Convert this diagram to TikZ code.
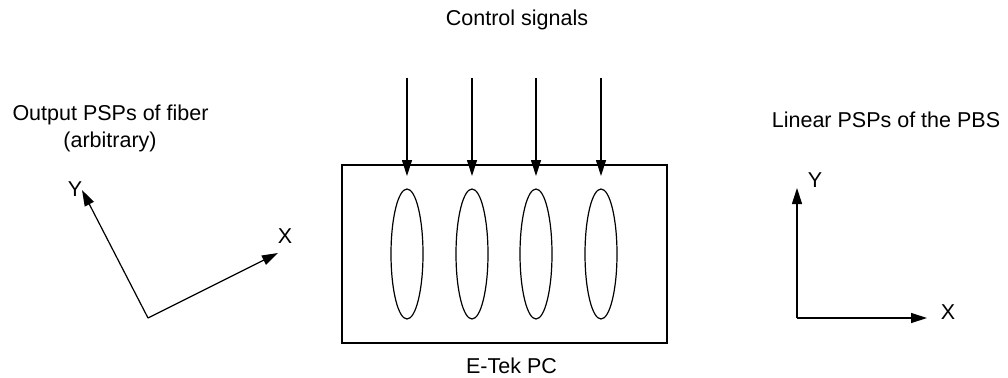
\documentclass[tikz,border=0pt]{standalone}
\usepackage{fontspec}
\setmainfont{Liberation Sans}
\usetikzlibrary{arrows.meta,shapes.geometric}
\begin{document}
\begin{tikzpicture}[x=1pt,y=-1pt,
  lbl/.style={inner sep=0pt,anchor=base,font=\fontsize{21.5}{25}\selectfont},
  axlbl/.style={inner sep=0pt,font=\fontsize{21.5}{25}\selectfont},
  ln/.style={line width=1.2pt},
  arr/.style={ln,-{Triangle[length=16pt,width=10pt]}},
  cell/.style={draw,ln,ellipse,inner sep=0pt,minimum width=32pt,minimum height=130pt}]
\useasboundingbox (0,0) rectangle (1008,377);
% titles
\node[lbl] (ctrl) at (517,26) {Control signals};
\node[lbl] (out1) at (110.5,121) {Output PSPs of fiber};
\node[lbl] (out2) at (110,147) {(arbitrary)};
\node[lbl] (lin) at (886,128) {Linear PSPs of the PBS};
\node[lbl] (etek) at (511.5,373) {E-Tek PC};
% PC box
\node[draw,ln,inner sep=0pt,minimum width=325pt,minimum height=178pt] (box) at (504.5,254) {};
% cells and control arrows
\foreach \i/\x in {1/407,2/472,3/536,4/601}{
  \node[cell] (c\i) at (\x,254) {};
  \coordinate (s\i) at (\x,78);
  \coordinate (t\i) at (\x,176);
  \draw[arr] (s\i) -- (t\i);
}
% left axes
\coordinate (lo) at (148,318);
\coordinate (ly) at (82,190);
\coordinate (lx) at (278,253);
\draw[arr] (lo) -- (ly);
\draw[arr] (lo) -- (lx);
\node[axlbl] (lyl) at (75,189) {Y};
\node[axlbl] (lxl) at (285,236) {X};
% right axes
\coordinate (ro) at (797,318);
\coordinate (ry) at (797,188);
\coordinate (rx) at (927,318);
\draw[arr] (ro) -- (ry);
\draw[arr] (ro) -- (rx);
\node[axlbl] (ryl) at (815,180) {Y};
\node[axlbl] (rxl) at (948,312) {X};
\end{tikzpicture}
\end{document}
